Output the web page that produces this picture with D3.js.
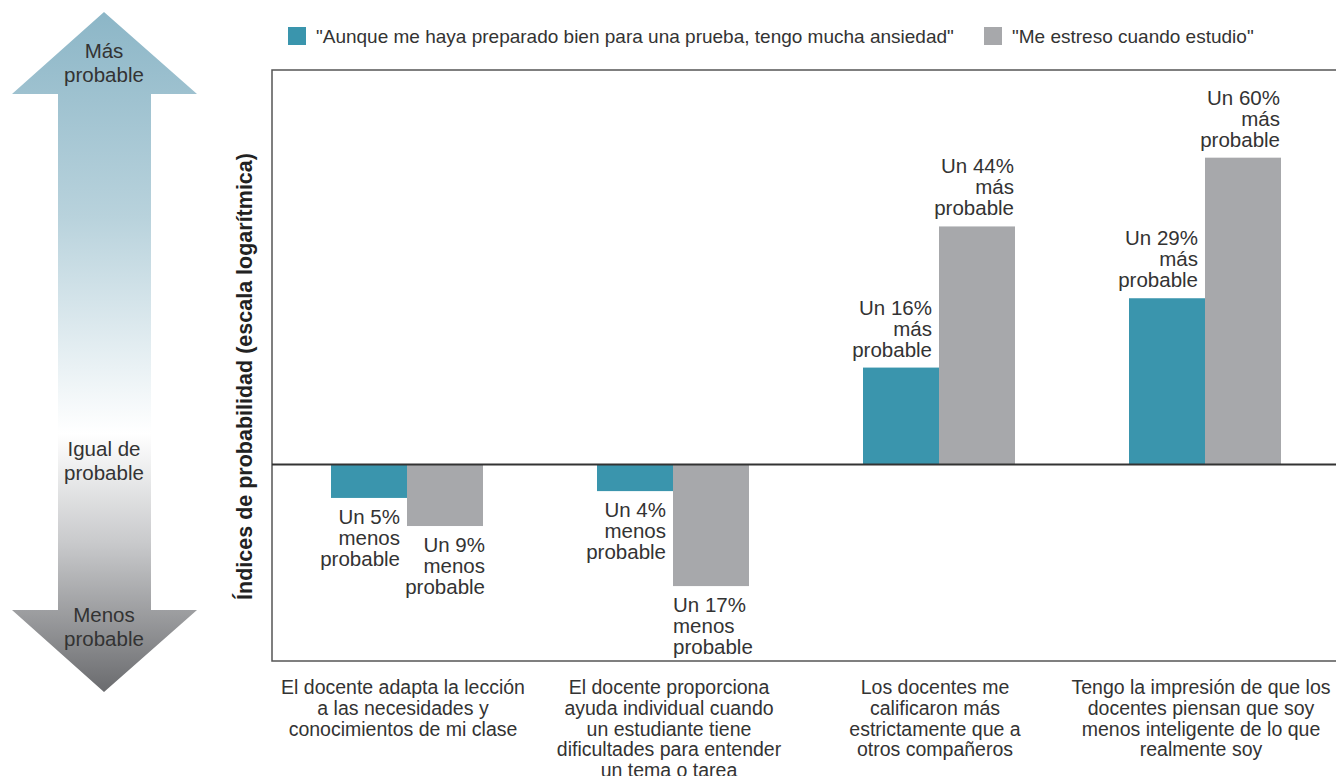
<!DOCTYPE html>
<html lang="es">
<head>
  <meta charset="UTF-8">
  <title>Índices de probabilidad</title>
  <script src="https://d3js.org/d3.v7.min.js"></script>
  <style>
    body { margin: 0; background: #fff; }
    text { font-family: "Liberation Sans", Arial, sans-serif; fill: #333; }
  </style>
</head>
<body>
  <svg id="chart" width="1336" height="776"></svg>

  <script>
    // data (odds ratios, log scale)
    const categories = [
      ["El docente adapta la lección", "a las necesidades y", "conocimientos de mi clase"],
      ["El docente proporciona", "ayuda individual cuando", "un estudiante tiene", "dificultades para entender", "un tema o tarea"],
      ["Los docentes me", "calificaron más", "estrictamente que a", "otros compañeros"],
      ["Tengo la impresión de que los", "docentes piensan que soy", "menos inteligente de lo que", "realmente soy"]
    ];
    const seriesNames = [
      "\"Aunque me haya preparado bien para una prueba, tengo mucha ansiedad\"",
      "\"Me estreso cuando estudio\""
    ];
    const ansiedad = [0.95, 0.96, 1.16, 1.29];
    const estres = [0.91, 0.83, 1.44, 1.60];
    const colors = ["#3a95ad", "#a7a8ab"];

    const svg = d3.select("#chart");

    const plot = { left: 272, top: 70, bottom: 661, right: 1336 };

    const x = d3.scaleBand()
      .domain(d3.range(categories.length))
      .range([274, 1338]);

    const x1 = d3.scaleBand()
      .domain([0, 1])
      .range([0, x.bandwidth()])
      .paddingInner(0)
      .paddingOuter(0.75);

    const y = d3.scaleLog()
      .domain([0.74, 1.83])
      .range([plot.bottom, plot.top]);

    // left arrow with gradient
    const defs = svg.append("defs");
    const grad = defs.append("linearGradient")
      .attr("id", "arrowGrad")
      .attr("gradientUnits", "userSpaceOnUse")
      .attr("x1", 0).attr("y1", 12).attr("x2", 0).attr("y2", 692);
    grad.append("stop").attr("offset", "0%").attr("stop-color", "#8cb6c7");
    grad.append("stop").attr("offset", "30%").attr("stop-color", "#b8d2dc");
    grad.append("stop").attr("offset", "62%").attr("stop-color", "#ffffff");
    grad.append("stop").attr("offset", "78%").attr("stop-color", "#c9cacc");
    grad.append("stop").attr("offset", "100%").attr("stop-color", "#6a6b6e");

    const ax = 104;
    const arrowPts = [
      [ax, 12], [197, 94], [151, 94], [151, 610], [197, 610],
      [ax, 692], [12, 610], [58, 610], [58, 94], [12, 94]
    ];
    svg.append("path")
      .attr("d", d3.line()(arrowPts) + "Z")
      .attr("fill", "url(#arrowGrad)");

    const arrowText = [
      { lines: ["Más", "probable"], y: 58 },
      { lines: ["Igual de", "probable"], y: 456 },
      { lines: ["Menos", "probable"], y: 622 }
    ];
    arrowText.forEach(t => {
      const tx = svg.append("text")
        .attr("text-anchor", "middle")
        .style("font-size", "20.5px");
      t.lines.forEach((l, i) => {
        tx.append("tspan").attr("x", ax).attr("y", t.y + i * 24).text(l);
      });
    });

    // y title
    svg.append("text")
      .attr("transform", `translate(252,${(148 + 605) / 2}) rotate(-90)`)
      .attr("text-anchor", "middle")
      .style("font-size", "21.5px")
      .style("font-weight", "bold")
      .style("fill", "#222")
      .text("Índices de probabilidad (escala logarítmica)");

    // legend
    const legendX = [288, 984];
    seriesNames.forEach((name, i) => {
      svg.append("rect")
        .attr("x", legendX[i]).attr("y", 27)
        .attr("width", 18).attr("height", 18)
        .attr("fill", colors[i]);
      svg.append("text")
        .attr("x", legendX[i] + 28).attr("y", 43)
        .style("font-size", "19px")
        .text(name);
    });

    // frame
    svg.append("path")
      .attr("d", `M${plot.right},${plot.top}H${plot.left}V${plot.bottom}H${plot.right}`)
      .attr("fill", "none")
      .attr("stroke", "#555")
      .attr("stroke-width", 1.5);

    // bars
    const series = [ansiedad, estres];
    const bars = [];
    series.forEach((vals, s) => {
      vals.forEach((v, c) => bars.push({ s, c, v }));
    });

    svg.append("g")
      .selectAll("rect")
      .data(bars)
      .join("rect")
      .attr("x", d => x(d.c) + x1(d.s))
      .attr("width", x1.bandwidth())
      .attr("y", d => Math.min(y(d.v), y(1)))
      .attr("height", d => Math.abs(y(d.v) - y(1)))
      .attr("fill", d => colors[d.s]);

    // zero line
    svg.append("line")
      .attr("x1", plot.left).attr("x2", plot.right)
      .attr("y1", y(1)).attr("y2", y(1))
      .attr("stroke", "#333")
      .attr("stroke-width", 2);

    // value labels
    const lh = 21;
    bars.forEach(d => {
      const pct = Math.round(Math.abs(d.v - 1) * 100);
      const pos = d.v > 1;
      const lines = ["Un " + pct + "%", pos ? "más" : "menos", "probable"];
      const bx0 = x(d.c) + x1(d.s);
      const bx1 = bx0 + x1.bandwidth();
      let anchor = "end";
      let tx = d.s === 0 ? bx1 - 7 : bx1 - 1;
      if (!pos && d.s === 1) tx = bx1 + 2;
      // long grey negative bar: label sits under the bar, left aligned
      if (!pos && d.s === 1 && y(d.v) - y(1) > 90) { anchor = "start"; tx = bx0; }
      const y0 = pos ? y(d.v) - 11 - (lines.length - 1) * lh : y(d.v) + 26;
      const t = svg.append("text")
        .attr("text-anchor", anchor)
        .style("font-size", "20.5px");
      lines.forEach((l, i) => {
        t.append("tspan").attr("x", tx).attr("y", y0 + i * lh).text(l);
      });
    });

    // category labels
    categories.forEach((lines, c) => {
      const cx = x(c) + x.bandwidth() / 2 - 4;
      const t = svg.append("text")
        .attr("text-anchor", "middle")
        .style("font-size", "19.5px");
      lines.forEach((l, i) => {
        t.append("tspan").attr("x", cx).attr("y", 694 + i * 20.8).text(l);
      });
    });
  </script>
</body>
</html>
